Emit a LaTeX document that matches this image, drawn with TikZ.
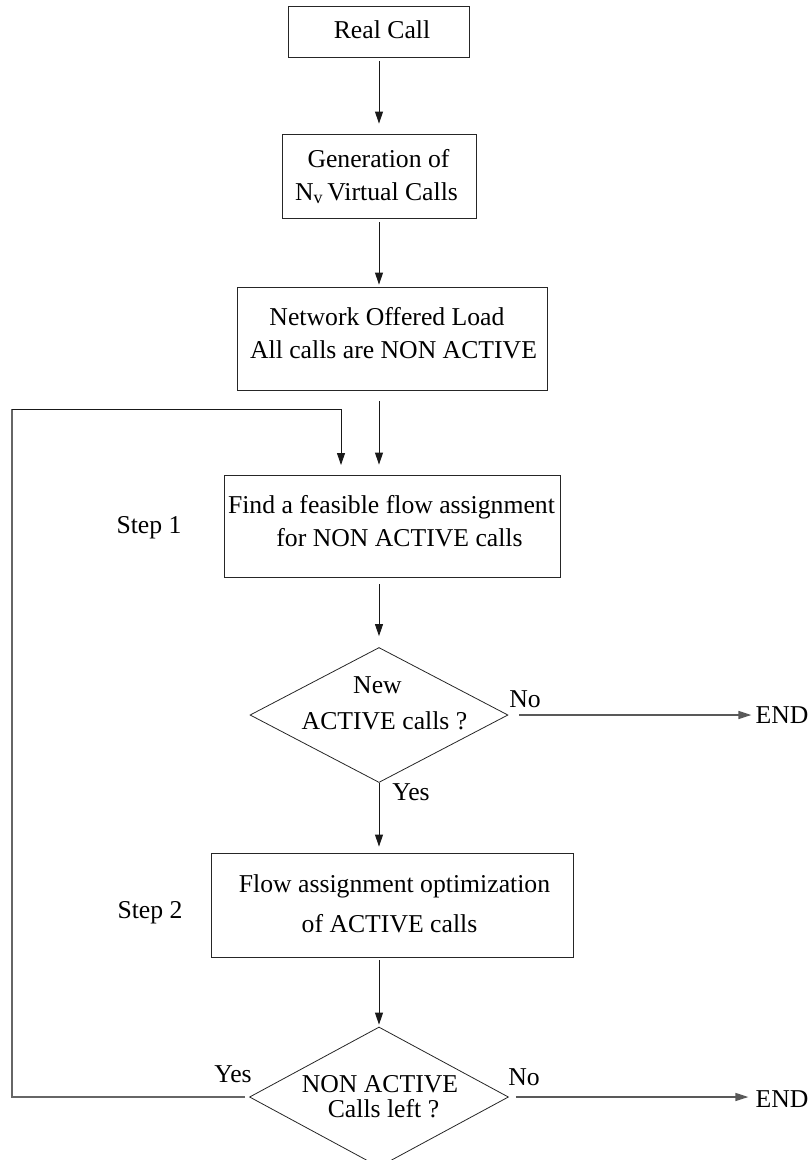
\documentclass[tikz,border=0pt]{standalone}
\usepackage{fontspec}
\setmainfont{Liberation Serif}
\usetikzlibrary{arrows.meta,shapes.geometric}

\tikzset{
  box/.style={draw=black!85, line width=0.9pt, inner sep=0pt},
  dia/.style={diamond, draw=black!85, line width=0.8pt, inner sep=0pt},
  txt/.style={anchor=base, inner sep=0pt, font=\fontsize{25.7}{30}\selectfont},
  arr/.style={draw=black!90, line width=0.9pt, -{Triangle[length=12pt,width=8pt]}},
  garr/.style={draw=black!65, line width=1.4pt, -{Triangle[length=13pt,width=8pt]}},
  gline/.style={draw=black!60, line width=1.4pt},
}

\begin{document}
\begin{tikzpicture}[x=1pt, y=-1pt]
  \clip (0,0) rectangle (810,1160);

  % process boxes and decisions
  \node[box, minimum width=181pt, minimum height=51pt]  (rc)  at (379,31.5) {};
  \node[box, minimum width=194pt, minimum height=84pt]  (gen) at (379,176) {};
  \node[box, minimum width=310pt, minimum height=103pt] (net) at (392,338.5) {};
  \node[box, minimum width=336pt, minimum height=102pt] (s1)  at (392,526) {};
  \node[dia, minimum width=258pt, minimum height=135pt] (d1)  at (379,715) {};
  \node[box, minimum width=362pt, minimum height=104pt] (s2)  at (392,905) {};
  \node[dia, minimum width=259pt, minimum height=140pt] (d2)  at (379,1097) {};

  % box texts
  \node[txt] (rct)  at (382,38)    {Real Call};
  \node[txt] (gent1) at (378.5,167) {Generation of};
  \node[txt] (gent2) at (376.5,200) {N\textsubscript{v}\,Virtual Calls};
  \node[txt] (nett1) at (387,325)   {Network Offered Load};
  \node[txt] (nett2) at (393.5,358) {All calls are NON ACTIVE};
  \node[txt] (s1t1) at (391.5,513)  {Find a feasible flow assignment};
  \node[txt] (s1t2) at (399.5,546)  {for NON ACTIVE calls};
  \node[txt] (d1t1) at (377.5,693)  {New};
  \node[txt] (d1t2) at (384.5,729)  {ACTIVE calls ?};
  \node[txt] (s2t1) at (394.5,892)  {Flow assignment optimization};
  \node[txt] (s2t2) at (389.5,932)  {of ACTIVE calls};
  \node[txt] (d2t1) at (380,1092)   {NON ACTIVE};
  \node[txt] (d2t2) at (383.5,1117) {Calls left ?};

  % side labels
  \node[txt] (step1) at (149,533)  {Step 1};
  \node[txt] (step2) at (150,918)  {Step 2};
  \node[txt] (yes1)  at (411,800)  {Yes};
  \node[txt] (no1)   at (525,707)  {No};
  \node[txt] (end1)  at (782,723)  {END};
  \node[txt] (yes2)  at (233,1082) {Yes};
  \node[txt] (no2)   at (524,1085) {No};
  \node[txt] (end2)  at (782,1107) {END};

  % main flow
  \draw[arr, shorten <=4pt, shorten >=10pt] (rc.south) -- (gen.north);
  \draw[arr, shorten <=4pt, shorten >=2pt]  (gen.south) -- (gen.south |- net.north);
  \draw[arr, shorten <=11pt, shorten >=10pt] (net.south -| gen) -- (s1.north -| gen);
  \draw[arr, shorten <=7pt, shorten >=11pt] (s1.south -| d1) -- (d1.north);
  \draw[arr, shorten >=6pt] (d1.south) -- (s2.north -| d1);
  \draw[arr, shorten <=3pt, shorten >=2pt] (s2.south -| d2) -- (d2.north);

  % exits to END
  \draw[garr, shorten <=11pt, shorten >=4pt] (d1.east) -- (end1.west |- d1.east);
  \draw[garr, shorten <=7pt, shorten >=7pt] (d2.east) -- (end2.west |- d2.east);

  % loop back to step 1
  \coordinate (cornerB) at (12,1097);
  \coordinate (cornerT) at (12,409);
  \coordinate (fbin) at (341,475);
  \draw[gline, shorten <=4pt] (d2.west) -- (cornerB) -- (cornerT);
  \draw[arr, shorten >=10pt] (cornerT) -| (fbin);
\end{tikzpicture}
\end{document}
